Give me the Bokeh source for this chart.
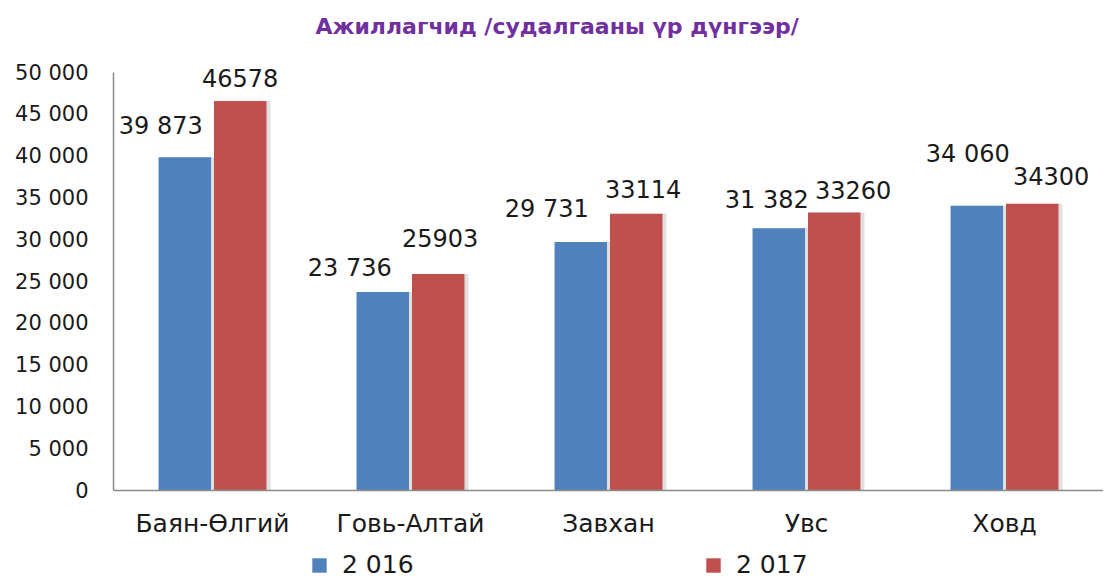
from bokeh.plotting import figure
from bokeh.models import ColumnDataSource, Range1d, FixedTicker, Legend, LegendItem, Label, Span
from bokeh.transform import dodge
from bokeh.core.properties import value
from bokeh.embed import file_html
from bokeh.resources import INLINE

# ---- data ----
categories = ["Баян-Өлгий", "Говь-Алтай", "Завхан", "Увс", "Ховд"]
series_names = ["2 016", "2 017"]
values_2016 = [39873, 23736, 29731, 31382, 34060]
values_2017 = [46578, 25903, 33114, 33260, 34300]
labels_2016 = ["39 873", "23 736", "29 731", "31 382", "34 060"]
labels_2017 = ["46578", "25903", "33114", "33260", "34300"]
y_ticks = [0, 5000, 10000, 15000, 20000, 25000, 30000, 35000, 40000, 45000, 50000]
y_tick_labels = ["0", "5 000", "10 000", "15 000", "20 000", "25 000",
                 "30 000", "35 000", "40 000", "45 000", "50 000"]
title_text = "Ажиллагчид  /судалгааны үр дүнгээр/"

# ---- style / layout (screen px) ----
label_dx_2016 = [-24, -33, -34, -12, -9]
label_dy_2016 = [-31, -24, -33, -28, -52]
label_dx_2017 = [0, 2, 7, 19, 19]
label_dy_2017 = [-23, -36, -25, -22, -28]

BLUE = "#4F81BD"
RED = "#C0504D"
FONT = "DejaVu Sans"
AXIS = "#8c8c8c"

Y_MAX = y_ticks[-1]
PLOT_TOP, PLOT_H, BOTTOM_SPACE = 72, 418, 89
CANVAS_H = PLOT_TOP + PLOT_H + BOTTOM_SPACE
k = Y_MAX / PLOT_H  # data units per pixel

xc = [i + 0.5 for i in range(len(categories))]
src = ColumnDataSource(dict(
    x=xc, zero=[0] * len(xc), cat=categories,
    v2016=values_2016, v2017=values_2017,
    l2016=labels_2016, l2017=labels_2017,
    dx2016=label_dx_2016, dy2016=label_dy_2016,
    dx2017=label_dx_2017, dy2017=label_dy_2017,
))

p = figure(frame_width=990, frame_height=CANVAS_H, output_backend="svg", toolbar_location=None,
           x_range=Range1d(0, len(categories)),
           y_range=Range1d(-BOTTOM_SPACE * k, Y_MAX + PLOT_TOP * k),
           min_border_left=113, min_border_right=0, min_border_top=0,
           min_border_bottom=0, x_axis_location=None)
p.outline_line_color = None
p.xgrid.visible = False
p.ygrid.visible = False

# title
p.add_layout(Label(x=(315 - 113) / 198.0, y=Y_MAX + (PLOT_TOP - 26) * k, text=title_text,
                   text_font=FONT, text_font_style="bold", text_font_size="22px",
                   text_color="#7030A0", text_align="left", text_baseline="middle"))

W = 0.265
OFF = 0.14
SH = 0.02
p.vbar(x=dodge("x", -OFF + SH, range=p.x_range), top="v2016", width=W, source=src,
       fill_color="#999999", fill_alpha=0.3, line_color=None)
p.vbar(x=dodge("x", OFF + SH, range=p.x_range), top="v2017", width=W, source=src,
       fill_color="#999999", fill_alpha=0.3, line_color=None)
r1 = p.vbar(x=dodge("x", -OFF, range=p.x_range), top="v2016", width=W, source=src,
            fill_color=BLUE, line_color=None)
r2 = p.vbar(x=dodge("x", OFF, range=p.x_range), top="v2017", width=W, source=src,
            fill_color=RED, line_color=None)

for key, lk, dx, dy in [("v2016", "l2016", "dx2016", "dy2016"), ("v2017", "l2017", "dx2017", "dy2017")]:
    off = -OFF if key == "v2016" else OFF
    p.text(x=dodge("x", off, range=p.x_range), y=key, text=lk, x_offset=dx, y_offset=dy,
           source=src, text_align="center", text_baseline="middle",
           text_font=value(FONT), text_font_size="24px", text_color="#1a1a1a")

# category axis: baseline at 0 and category labels below it
p.add_layout(Span(location=0, dimension="width", line_color=AXIS, line_width=1.5))
p.text(x="x", y="zero", text="cat", y_offset=33, source=src, text_align="center",
       text_baseline="middle", text_font=value(FONT), text_font_size="25px",
       text_color="#1a1a1a")

# value axis
ya = p.yaxis[0]
ya.bounds = (0, Y_MAX)
ya.ticker = FixedTicker(ticks=y_ticks)
ya.major_label_overrides = {t: l for t, l in zip(y_ticks, y_tick_labels)}
ya.axis_line_color = AXIS
ya.axis_line_width = 1.5
ya.major_tick_line_color = None
ya.minor_tick_line_color = None
ya.major_tick_out = 0
ya.major_tick_in = 0
ya.major_label_text_font = FONT
ya.major_label_text_color = "#1a1a1a"
ya.major_label_text_font_size = "21px"
ya.major_label_standoff = 25

legend = Legend(items=[LegendItem(label=series_names[0], renderers=[r1]),
                       LegendItem(label=series_names[1], renderers=[r2])],
                orientation="horizontal", location=(197, 0))
legend.border_line_color = None
legend.background_fill_alpha = 0
legend.margin = 0
legend.padding = 0
legend.glyph_width = 18
legend.glyph_height = 18
legend.label_standoff = 14
legend.label_width = 120
legend.spacing = 242
legend.label_text_font = FONT
legend.label_text_font_size = "25px"
legend.label_text_color = "#1a1a1a"
p.add_layout(legend, "center")

open("out.html", "w").write(file_html(p, INLINE))
